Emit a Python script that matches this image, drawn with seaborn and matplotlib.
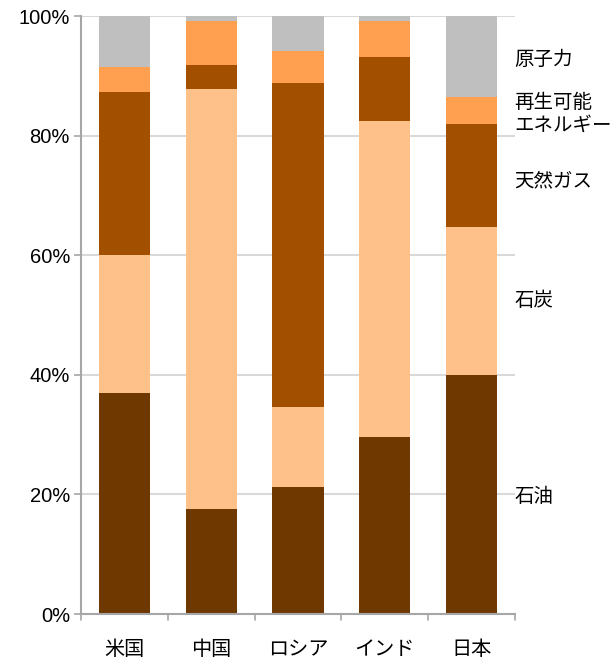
import matplotlib
matplotlib.use("Agg")
import matplotlib.pyplot as plt
import seaborn as sns
import pandas as pd
import numpy as np

countries = ["米国", "中国", "ロシア", "インド", "日本"]
sources = ["石油", "石炭", "天然ガス", "再生可能\nエネルギー", "原子力"]
oil = [37.0, 17.6, 21.2, 29.6, 40.0]
coal = [23.0, 70.2, 13.4, 52.8, 24.7]
gas = [27.3, 4.0, 54.2, 10.7, 17.2]
renew = [4.2, 7.4, 5.3, 6.1, 4.6]
nuclear = [8.5, 0.8, 5.9, 0.8, 13.5]
colors = ["#6F3800", "#FFC18A", "#A34F00", "#FFA050", "#BFBFBF"]
label_y = [19.6, 52.5, 72.4, 83.6, 92.8]

sns.set_theme(style="white")
plt.rcParams['font.family'] = ['Noto Sans CJK JP', 'DejaVu Sans']

fig = plt.figure(figsize=(6.15, 6.61), dpi=100)
ax = fig.add_axes([81/615, 1-614/661, (515-81)/615, (614-16)/661])

series = [oil, coal, gas, renew, nuclear]
bottom = np.zeros(len(countries))
for name, vals, col in zip(sources, series, colors):
    df = pd.DataFrame({"country": countries, "value": vals})
    sns.barplot(data=df, x="country", y="value", color=col, width=0.59,
                saturation=1, bottom=bottom, ax=ax, edgecolor="none", linewidth=0)
    bottom = bottom + np.array(vals)

ax.set_ylim(0, 100)
ax.set_xlim(-0.5, 4.5)
ax.set_yticks(range(0, 101, 20))
ax.set_yticklabels([f"{v}%" for v in range(0, 101, 20)], fontsize=14.5,
                   family=['Liberation Sans', 'DejaVu Sans'], color="black")
ax.set_xlabel("")
ax.set_ylabel("")
ax.set_xticks(range(len(countries)))
ax.set_xticklabels(countries, fontsize=14.5, color="black")
ax.tick_params(axis='x', length=0, pad=18)
ax.tick_params(axis='y', length=5, color="#A6A6A6", direction='out', pad=3, left=True, width=1.2)
for y in range(20, 101, 20):
    ax.axhline(y, color="#D9D9D9", lw=1.5, zorder=0)
for x in np.arange(-0.5, 4.6, 1):
    ax.plot([x, x], [0, -1.0], color="#A6A6A6", lw=1.2, clip_on=False)
for s in ["top", "right"]:
    ax.spines[s].set_visible(False)
for s in ["left", "bottom"]:
    ax.spines[s].set_color("#A6A6A6")
    ax.spines[s].set_linewidth(1.5)
ax.set_axisbelow(True)

for name, yv in zip(sources, label_y):
    ax.text(0.998, yv, name, transform=ax.get_yaxis_transform(), fontsize=14,
            va="center", ha="left", linespacing=1.1, color="black")

fig.savefig("out.png", dpi=100)
